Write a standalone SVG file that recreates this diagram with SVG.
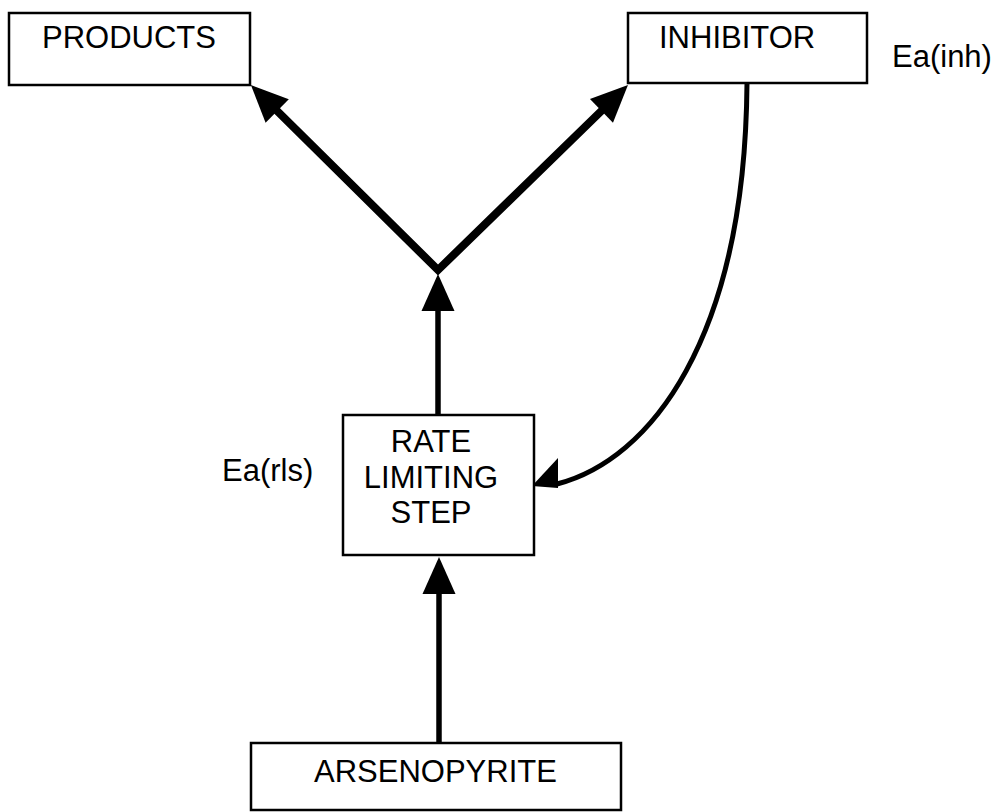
<svg xmlns="http://www.w3.org/2000/svg" width="1001" height="812" viewBox="0 0 1001 812">
<style>
.box{fill:#fff;stroke:#000;stroke-width:2.5}
.t{font-family:"Liberation Sans",Arial,Helvetica,sans-serif;font-size:31px;fill:#000}
.arm{fill:none;stroke:#000;stroke-width:8;stroke-linejoin:miter}
.vert{fill:none;stroke:#000;stroke-width:5.5}
.curve{fill:none;stroke:#000;stroke-width:5}
</style>
<defs>
<marker id="ah" markerUnits="userSpaceOnUse" viewBox="-50 -20 52 40" markerWidth="52" markerHeight="40" refX="-10" refY="0" orient="auto-start-reverse" overflow="visible">
<path d="M0,0 L-37,-16.5 L-37,16.5 Z" fill="#000"/>
</marker>
</defs>
<rect width="1001" height="812" fill="#fff"/>
<g id="connectors">
<polyline class="arm" points="258,92 438,270 620.8,92" marker-start="url(#ah)" marker-end="url(#ah)"/>
<line class="vert" x1="438" y1="415" x2="438" y2="284" marker-end="url(#ah)"/>
<line class="vert" x1="439" y1="743" x2="439" y2="567" marker-end="url(#ah)"/>
<path class="curve" d="M747,83 C745,340 650,460 557,484"/>
<polygon points="532,486 558,458 558,488" fill="#000"/>
</g>
<g id="products">
<rect class="box" x="9" y="13" width="241" height="72"/>
<text class="t" x="42" y="48">PRODUCTS</text>
</g>
<g id="inhibitor">
<rect class="box" x="628" y="13" width="239" height="70"/>
<text class="t" x="659" y="48">INHIBITOR</text>
</g>
<g id="ea-inh">
<text class="t" x="892" y="67">Ea(inh)</text>
</g>
<g id="rate-limiting-step">
<rect class="box" x="343" y="415" width="191" height="140"/>
<text class="t" x="431" y="452" text-anchor="middle">RATE</text>
<text class="t" x="431" y="488" text-anchor="middle">LIMITING</text>
<text class="t" x="431" y="523" text-anchor="middle">STEP</text>
</g>
<g id="ea-rls">
<text class="t" x="222" y="481">Ea(rls)</text>
</g>
<g id="arsenopyrite">
<rect class="box" x="251" y="743" width="370" height="67"/>
<text class="t" x="314" y="782">ARSENOPYRITE</text>
</g>
</svg>
